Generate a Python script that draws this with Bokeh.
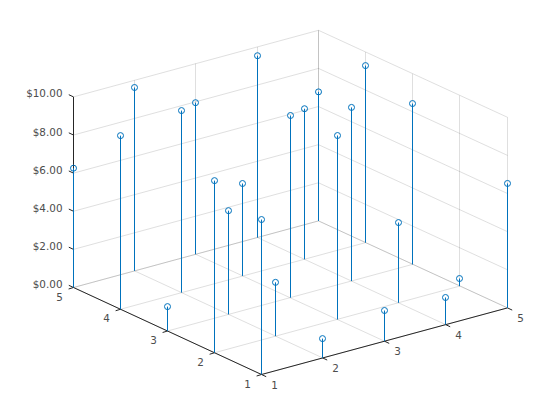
import math
from bokeh.plotting import figure
from bokeh.core.properties import value
from bokeh.embed import file_html
from bokeh.resources import INLINE

# chart values
stem_x = [1, 1, 2, 1, 2, 3, 1, 2, 3, 4, 1, 2, 3, 4, 5, 3, 4, 5, 2, 3, 4, 5, 4, 5, 5]
stem_y = [5, 4, 5, 3, 4, 5, 2, 3, 4, 5, 1, 2, 3, 4, 5, 2, 3, 4, 1, 1, 2, 3, 1, 2, 1]
stem_z = [6.26, 9.11, 9.62, 1.28, 9.55, 7.95, 9.03, 5.44, 4.85, 9.54, 8.13, 2.82, 9.56,
          7.90, 6.77, 9.65, 9.11, 9.29, 1.01, 1.61, 4.21, 8.44, 1.42, 0.40, 6.53]
x_ticks = [1, 2, 3, 4, 5]
y_ticks = [1, 2, 3, 4, 5]
z_ticks = [0, 2, 4, 6, 8, 10]
z_labels = ["$0.00", "$2.00", "$4.00", "$6.00", "$8.00", "$10.00"]

BLUE = "#0072BD"
DARK = "#262626"


def px(x, y, z=0.0):
    """Orthographic view projection of the 3-D axes onto the page."""
    sx = 261.2 + 61.45 * (x - 1) - 47.05 * (y - 1)
    sy = 374.0 - 16.65 * (x - 1) - 21.75 * (y - 1) - 19.06 * z
    return math.floor(sx), sy


def add(bucket, a, b):
    bucket[0].append([a[0], b[0]])
    bucket[1].append([a[1], b[1]])


p = figure(width=544, height=404, x_range=(0, 544), y_range=(404, 0),
           output_backend="svg", toolbar_location=None,
           x_axis_location=None, y_axis_location=None,
           min_border=0, outline_line_color=None, background_fill_color="white")
p.grid.visible = False

# grid: floor and the two back walls
g = ([], [])
for v in x_ticks:
    add(g, px(v, 1), px(v, 5))
    add(g, px(v, 5), px(v, 5, 10))
for v in y_ticks:
    add(g, px(1, v), px(5, v))
    add(g, px(5, v), px(5, v, 10))
for v in z_ticks:
    add(g, px(1, 5, v), px(5, 5, v))
    add(g, px(5, 5, v), px(5, 1, v))
p.multi_line(g[0], g[1], line_color=DARK, line_alpha=0.15, line_width=1)

# axes and ticks
a = ([], [])
add(a, px(1, 1), px(5, 1))
add(a, px(1, 1), px(1, 5))
add(a, px(1, 5), px(1, 5, 10))
for v in x_ticks:
    s = px(v, 1)
    add(a, s, (s[0] + 4.7, s[1] + 2.2))
for v in y_ticks:
    s = px(1, v)
    add(a, s, (s[0] - 4.9, s[1] + 1.5))
for v in z_ticks:
    s = px(1, 5, v)
    add(a, s, (s[0] - 4.7, s[1] - 2.2))
p.multi_line(a[0], a[1], line_color=DARK, line_width=1)

# stems and markers
bases = [px(x, y) for x, y in zip(stem_x, stem_y)]
tops = [px(x, y, z) for x, y, z in zip(stem_x, stem_y, stem_z)]
p.segment([b[0] for b in bases], [b[1] for b in bases],
          [t[0] for t in tops], [t[1] for t in tops],
          line_color=BLUE, line_width=1)
p.scatter([t[0] for t in tops], [t[1] for t in tops], size=6, marker="circle",
          line_color=BLUE, line_width=1, fill_color=None)

# tick labels
font = value("DejaVu Sans")
style = dict(text_font=font, text_font_size=value("10.4px"), text_color="#4d4d4d")
xl = [px(v, 1) for v in x_ticks]
p.text([s[0] + 13 for s in xl], [s[1] + 10 for s in xl], text=[str(v) for v in x_ticks],
       text_align="center", text_baseline="middle", **style)
yl = [px(1, v) for v in y_ticks]
p.text([s[0] - 14 for s in yl], [s[1] + 9 for s in yl], text=[str(v) for v in y_ticks],
       text_align="center", text_baseline="middle", **style)
zl = [px(1, 5, v) for v in z_ticks]
p.text([s[0] - 11 for s in zl], [s[1] - 3.5 for s in zl], text=z_labels,
       text_align="right", text_baseline="middle", **style)

open("out.html", "w").write(file_html(p, INLINE))
